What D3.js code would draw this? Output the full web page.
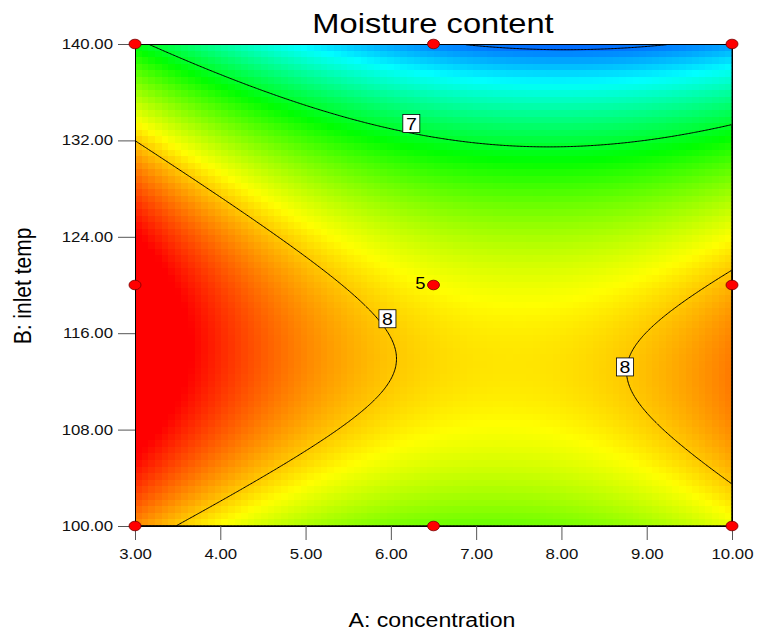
<!DOCTYPE html>
<html><head><meta charset="utf-8">
<script src="https://cdn.jsdelivr.net/npm/d3@7"></script>
<style>
html,body{margin:0;padding:0;background:#fff;}
svg{display:block;font-family:Arial,"Liberation Sans",sans-serif;}
</style></head><body>
<svg id="chart" width="760" height="631"></svg>
<script>
// Factor ranges and axis ticks
const factorA = [3, 10];      // A: concentration
const factorB = [100, 140];   // B: inlet temp
const ticksA = [3, 4, 5, 6, 7, 8, 9, 10];
const ticksB = [100, 108, 116, 124, 132, 140];

// Quadratic response-surface model for moisture content, coded units
const modelTerms = ["Intercept", "A", "B", "AB", "A^2", "B^2"];
const modelCoefficients = [7.8461, -0.3350, -0.6982, -0.1501, 0.5455, -1.1104];

// Design points (face-centred central composite design)
const designA = [3, 3, 3, 6.5, 6.5, 6.5, 10, 10, 10];
const designB = [100, 120, 140, 100, 120, 140, 100, 120, 140];
const designReplicates = [1, 1, 1, 1, 5, 1, 1, 1, 1];

// Contour levels and where their labels sit
const contourLevels = [6, 7, 8];
const labelLevels = [7, 8, 8];
const labelA = [6.24, 5.96, 8.745];
const labelB = [133.4, 117.2, 113.2];

// Colour ramp: blue - cyan - green - yellow - red
const colorLevels = [5.66, 6.39, 7.12, 7.85, 8.55];
const colorRamp = ["#0000ff", "#00ffff", "#00ff00", "#ffff00", "#ff0000"];

function basis(a, b) {
  const x1 = (a - 6.5) / 3.5, x2 = (b - 120) / 20;
  return [1, x1, x2, x1 * x2, x1 * x1, x2 * x2];
}
function predict(a, b) {
  return d3.sum(basis(a, b).map((v, i) => v * modelCoefficients[i]));
}

const svg = d3.select("#chart");
const x = d3.scaleLinear().domain(factorA).range([135, 732]);
const y = d3.scaleLinear().domain(factorB).range([526, 44]);
const color = d3.scaleLinear().domain(colorLevels).range(colorRamp)
  .interpolate(d3.interpolateRgb).clamp(true);

svg.append("clipPath").attr("id", "plotClip").append("rect")
  .attr("x", x(factorA[0])).attr("y", y(factorB[1]))
  .attr("width", x(factorA[1]) - x(factorA[0])).attr("height", y(factorB[0]) - y(factorB[1]));

// Shaded response surface
const cellsA = 90, cellsB = 73;
const spanA = factorA[1] - factorA[0], spanB = factorB[1] - factorB[0];
const cells = [];
for (let j = 0; j < cellsB; j++) for (let i = 0; i < cellsA; i++) {
  const a0 = factorA[0] + i * spanA / cellsA, a1 = factorA[0] + (i + 1) * spanA / cellsA;
  const b1 = factorB[1] - j * spanB / cellsB, b0 = factorB[1] - (j + 1) * spanB / cellsB;
  cells.push({ a0, a1, b0, b1, v: predict((a0 + a1) / 2, (b0 + b1) / 2) });
}
svg.append("g").attr("clip-path", "url(#plotClip)")
  .selectAll("rect").data(cells).join("rect")
  .attr("x", d => x(d.a0)).attr("y", d => y(d.b1))
  .attr("width", d => x(d.a1) - x(d.a0) + 0.6).attr("height", d => y(d.b0) - y(d.b1) + 0.6)
  .attr("fill", d => color(d.v)).attr("shape-rendering", "crispEdges");

// Contour lines
const nx = 420, ny = 340, grid = new Float64Array(nx * ny);
for (let j = 0; j < ny; j++) for (let i = 0; i < nx; i++)
  grid[j * nx + i] = predict(factorA[0] + (i + 0.5) * spanA / nx, factorB[1] - (j + 0.5) * spanB / ny);
const gx = d3.scaleLinear().domain([0, nx]).range(factorA);
const gy = d3.scaleLinear().domain([0, ny]).range([factorB[1], factorB[0]]);
const path = d3.geoPath(d3.geoTransform({
  point(px, py) { this.stream.point(x(gx(px)), y(gy(py))); }
}));
svg.append("g").attr("clip-path", "url(#plotClip)")
  .selectAll("path").data(d3.contours().size([nx, ny]).thresholds(contourLevels)(grid)).join("path")
  .attr("d", path).attr("fill", "none").attr("stroke", "#000").attr("stroke-width", 1);

// Plot frame
svg.append("rect")
  .attr("x", x(factorA[0])).attr("y", y(factorB[1]))
  .attr("width", x(factorA[1]) - x(factorA[0])).attr("height", y(factorB[0]) - y(factorB[1]))
  .attr("fill", "none").attr("stroke", "#000").attr("shape-rendering", "crispEdges");

// Contour value labels
const lab = svg.append("g").selectAll("g")
  .data(labelLevels.map((l, i) => ({ l, a: labelA[i], b: labelB[i] }))).join("g")
  .attr("transform", d => `translate(${x(d.a)},${y(d.b)})`);
lab.append("rect").attr("x", -8.5).attr("y", -9).attr("width", 17).attr("height", 18)
  .attr("fill", "#fff").attr("stroke", "#000").attr("stroke-width", 0.8);
lab.append("text").attr("text-anchor", "middle").attr("y", 6.1).attr("font-size", 17)
  .attr("transform", "scale(1.15,1)").text(d => d.l);

// Axes
const xAxis = svg.append("g").attr("transform", `translate(0,${y(factorB[0])})`)
  .call(d3.axisBottom(x).tickValues(ticksA).tickFormat(d3.format(".2f")).tickSize(14).tickPadding(9));
const yAxis = svg.append("g").attr("transform", `translate(${x(factorA[0])},0)`)
  .call(d3.axisLeft(y).tickValues(ticksB).tickFormat(d3.format(".2f")).tickSize(17).tickPadding(5));
[xAxis, yAxis].forEach(g => {
  g.select(".domain").remove();
  g.selectAll("line").attr("stroke", "#555");
  g.selectAll("text").attr("font-size", 14)
    .attr("font-family", "Arial,'Liberation Sans',sans-serif").attr("fill", "#111");
});
xAxis.selectAll("text").attr("transform", "scale(1.2,1)");
yAxis.selectAll("text").attr("x", -22 / 1.2).attr("transform", "scale(1.2,1)");

// Design points and replicate count
const points = designA.map((a, i) => ({ a, b: designB[i], n: designReplicates[i] }));
svg.append("g").selectAll("ellipse").data(points).join("ellipse")
  .attr("cx", d => x(d.a)).attr("cy", d => y(d.b)).attr("rx", 6).attr("ry", 4.8)
  .attr("fill", "#ff0000").attr("stroke", "#700").attr("stroke-width", 0.8);
svg.append("g").selectAll("text").data(points.filter(d => d.n > 1)).join("text")
  .attr("transform", d => `translate(${x(d.a) - 8},${y(d.b) + 4.3}) scale(1.15,1)`)
  .attr("text-anchor", "end").attr("font-size", 16).text(d => d.n);

// Titles
svg.append("text").attr("transform", "translate(433,33) scale(1.167,1)")
  .attr("text-anchor", "middle").attr("font-size", 28).text("Moisture content");
svg.append("text").attr("transform", "translate(432,627) scale(1.1,1)")
  .attr("text-anchor", "middle").attr("font-size", 21).text("A: concentration");
svg.append("text").attr("transform", "translate(31,286) scale(1.1,1) rotate(-90)")
  .attr("text-anchor", "middle").attr("font-size", 21).text("B: inlet temp");
</script>
</body></html>
